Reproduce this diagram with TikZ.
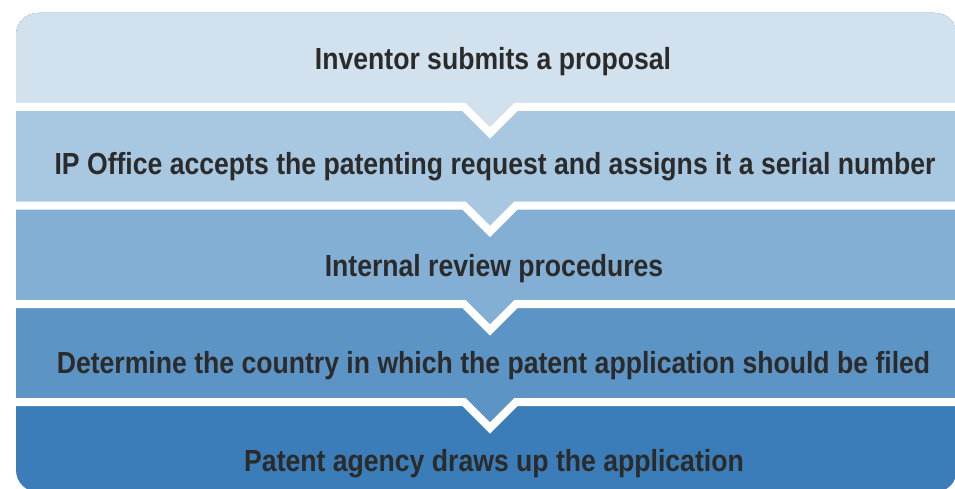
\documentclass[tikz,border=0pt]{standalone}
\usepackage{fontspec}
\setmainfont[FakeStretch=0.872]{Liberation Sans}
\definecolor{bandA}{RGB}{210,225,238}
\definecolor{bandB}{RGB}{168,200,225}
\definecolor{bandC}{RGB}{132,175,212}
\definecolor{bandD}{RGB}{93,148,198}
\definecolor{bandE}{RGB}{58,125,184}
\definecolor{txt}{RGB}{43,43,43}
\begin{document}
\begin{tikzpicture}[x=1pt,y=-1pt,
  label/.style={anchor=base,text=txt,inner sep=0pt,font=\fontsize{30.5}{32}\selectfont\bfseries},
  gapline/.style={draw=white,line width=8pt,miter limit=10}]
\useasboundingbox (0,0) rectangle (955,489);
\begin{scope}
\clip[rounded corners=22pt] (16,13) rectangle (957,492);
\fill[bandE] (0,0) rectangle (970,500);
\foreach \g/\c in {402/bandD,304/bandC,205.5/bandB,107/bandA}{
  \fill[\c] (0,0) -- (970,0) -- (970,\g) -- (516,\g) -- (490,\g+26) -- (464,\g) -- (0,\g) -- cycle;
}
\foreach \g in {107,205.5,304,402}{
  \draw[gapline] (0,\g) -- (464,\g) -- (490,\g+26) -- (516,\g) -- (970,\g);
}
\end{scope}
\node[label] (s1) at (493,70) {Inventor submits a proposal};
\node[label] (s2) at (495,175) {IP Office accepts the patenting request and assigns it a serial number};
\node[label] (s3) at (494,276) {Internal review procedures};
\node[label] (s4) at (493.5,373) {Determine the country in which the patent application should be filed};
\node[label] (s5) at (494,471) {Patent agency draws up the application};
\end{tikzpicture}
\end{document}
